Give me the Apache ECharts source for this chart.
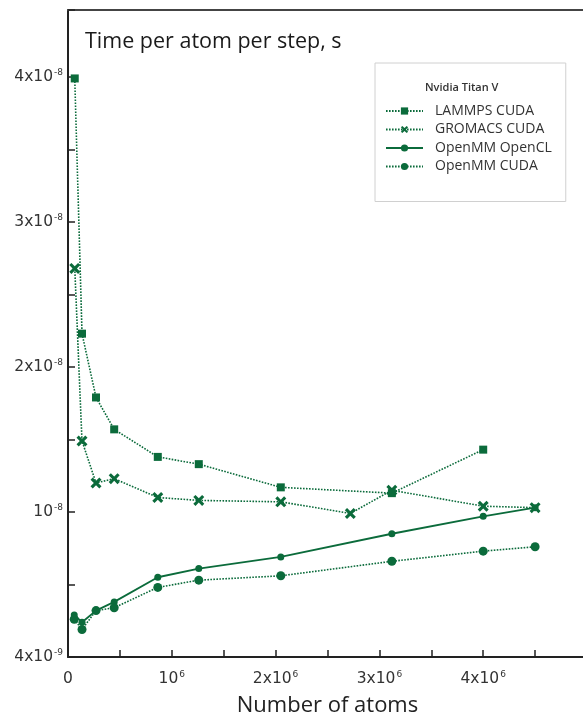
<!DOCTYPE html>
<html><head><meta charset="utf-8">
<script src="https://cdn.jsdelivr.net/npm/echarts@6/dist/echarts.min.js"></script>
<style>html,body{margin:0;padding:0;background:#fff}#c{width:583px;height:716px}</style>
</head><body><div id="c"></div>
<script>
// ---- data ----
const lammpsX = [65000, 135000, 270000, 445000, 865000, 1260000, 2050000, 3120000, 4000000];
const lammpsY = [3.99e-8, 2.23e-8, 1.79e-8, 1.57e-8, 1.38e-8, 1.33e-8, 1.17e-8, 1.13e-8, 1.43e-8];
const gromacsX = [65000, 135000, 270000, 445000, 865000, 1260000, 2050000, 2720000, 3120000, 4000000, 4500000];
const gromacsY = [2.68e-8, 1.49e-8, 1.20e-8, 1.23e-8, 1.10e-8, 1.08e-8, 1.07e-8, 0.99e-8, 1.15e-8, 1.04e-8, 1.03e-8];
const openclX = [60000, 135000, 270000, 445000, 865000, 1260000, 2050000, 3120000, 4000000, 4500000];
const openclY = [0.29e-8, 0.24e-8, 0.32e-8, 0.38e-8, 0.55e-8, 0.61e-8, 0.69e-8, 0.85e-8, 0.97e-8, 1.03e-8];
const cudaX = [60000, 135000, 270000, 445000, 865000, 1260000, 2050000, 3120000, 4000000, 4500000];
const cudaY = [0.26e-8, 0.19e-8, 0.32e-8, 0.34e-8, 0.48e-8, 0.53e-8, 0.56e-8, 0.66e-8, 0.73e-8, 0.76e-8];
const seriesNames = ['LAMMPS CUDA', 'GROMACS CUDA', 'OpenMM OpenCL', 'OpenMM CUDA'];
const yTickBase = ['4x10', '10', '2x10', '3x10', '4x10'];
const yTickExp = ['-9', '-8', '-8', '-8', '-8'];
const xTickBase = ['0', '10', '2x10', '3x10', '4x10'];
const xTickExp = ['', '6', '6', '6', '6'];
const legendTitle = 'Nvidia Titan V';
const chartTitle = 'Time per atom per step, s';
const xAxisName = 'Number of atoms';

const GREEN = '#0b6b3b';
const zip = (xs, ys) => xs.map((x, i) => [x, ys[i]]);
const rich = {
  b: {fontSize: 15.5, color: '#333', fontFamily: 'DejaVu Sans', lineHeight: 18},
  s: {fontSize: 9, color: '#333', fontFamily: 'DejaVu Sans', verticalAlign: 'top', lineHeight: 9, padding: [0, 0, 0, 1]}
};
const xMark = 'path://M0,2 L2,0 L5,3 L8,0 L10,2 L7,5 L10,8 L8,10 L5,7 L2,10 L0,8 L3,5 Z';

const chart = echarts.init(document.getElementById('c'), null, {renderer: 'canvas'});
chart.setOption({
  animation: false,
  backgroundColor: '#fff',
  grid: {left: 68, top: 10, right: -4, bottom: 59, show: false, outerBoundsMode: 'none', containLabel: false},
  title: {text: chartTitle, left: 80, top: 26,
    textStyle: {fontFamily: 'Open Sans', fontSize: 21.5, fontWeight: 'normal', color: '#1a1a1a'}},
  graphic: [{
    type: 'text', left: 425, top: 82,
    style: {text: legendTitle, fontFamily: 'Open Sans', fontSize: 11, fontWeight: 600, fill: '#333'}
  }],
  legend: {
    orient: 'vertical', left: 375, top: 63,
    padding: [41, 14, 28, 10], itemGap: 4.5, itemWidth: 37, itemHeight: 9,
    borderColor: '#d0d0d0', borderWidth: 1,
    textStyle: {fontFamily: 'Open Sans', fontSize: 14, color: '#333', padding: [0, 0, 0, 7]},
    data: seriesNames
  },
  xAxis: [{
    type: 'value', min: 0, max: 5000000, interval: 500000, position: 'bottom',
    name: xAxisName, nameLocation: 'middle', nameGap: 38,
    nameTextStyle: {fontFamily: 'Open Sans', fontSize: 22, color: '#222'},
    axisLine: {lineStyle: {color: '#222', width: 2}},
    axisTick: {inside: true, length: 7, lineStyle: {color: '#222', width: 1.5}},
    splitLine: {show: false},
    axisLabel: {margin: 13, rich: rich, formatter: v => {
      const k = Math.round(v / 500000);
      if (Math.abs(v / 500000 - k) > 1e-6 || k % 2) return '';
      const n = k / 2;
      if (n >= xTickBase.length) return '';
      return xTickExp[n] ? `{b|${xTickBase[n]}}{s|${xTickExp[n]}}` : `{b|${xTickBase[n]}}`;
    }}
  }, {
    type: 'value', min: 0, max: 5000000, position: 'top',
    axisLine: {show: true, onZero: false, lineStyle: {color: '#444', width: 2}},
    axisTick: {show: false}, axisLabel: {show: false}, splitLine: {show: false}
  }],
  yAxis: {
    type: 'value', min: 0, max: 4.462e-8, interval: 0.5e-8,
    axisLine: {lineStyle: {color: '#222', width: 2}},
    axisTick: {inside: true, length: 7, lineStyle: {color: '#222', width: 1.5}},
    splitLine: {show: false},
    axisLabel: {margin: 5, rich: rich, formatter: v => {
      const r = v / 0.5e-8, k = Math.round(r);
      if (Math.abs(r - k) > 1e-6 || k % 2) return '';
      const n = k / 2;
      if (n >= yTickBase.length) return '';
      return `{b|${yTickBase[n]}}{s|${yTickExp[n]}}`;
    }}
  },
  series: [
    {name: seriesNames[0], type: 'line', data: zip(lammpsX, lammpsY),
      symbol: 'rect', symbolSize: 8, itemStyle: {color: GREEN},
      lineStyle: {color: GREEN, width: 1.6, type: [1.6, 1.4]}},
    {name: seriesNames[1], type: 'line', data: zip(gromacsX, gromacsY),
      symbol: xMark, symbolSize: 11, itemStyle: {color: GREEN},
      lineStyle: {color: GREEN, width: 1.6, type: [1.6, 1.4]}},
    {name: seriesNames[2], type: 'line', data: zip(openclX, openclY),
      symbol: 'circle', symbolSize: 7, itemStyle: {color: GREEN},
      lineStyle: {color: GREEN, width: 1.8, type: 'solid'}},
    {name: seriesNames[3], type: 'line', data: zip(cudaX, cudaY),
      symbol: 'circle', symbolSize: 9, itemStyle: {color: GREEN},
      lineStyle: {color: GREEN, width: 1.6, type: [1.6, 1.4]}}
  ]
});
</script></body></html>
